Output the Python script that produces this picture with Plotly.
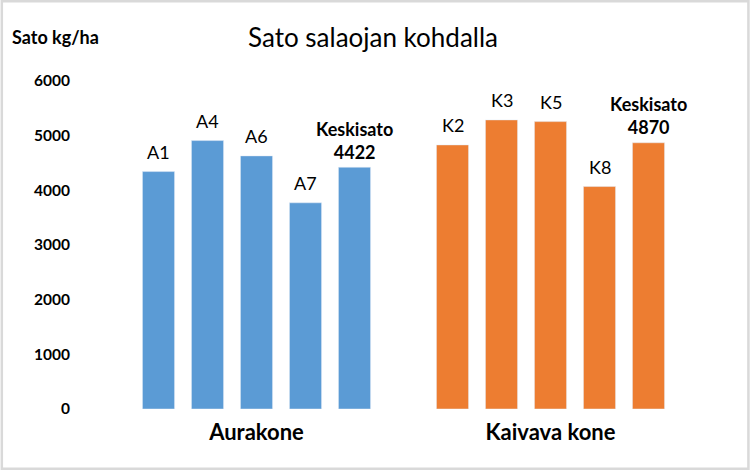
import plotly.graph_objects as go

# ---- data ----
groups = ["Aurakone", "Kaivava kone"]
labels_a = ["A1", "A4", "A6", "A7", "Keskisato"]
values_a = [4343, 4910, 4630, 3772, 4422]
labels_k = ["K2", "K3", "K5", "K8", "Keskisato"]
values_k = [4831, 5288, 5257, 4069, 4870]
y_ticks = [0, 1000, 2000, 3000, 4000, 5000, 6000]

BLUE = "#5B9BD5"
ORANGE = "#ED7D31"
FONT = "Lato"

x_a = list(range(len(values_a)))
x_k = [len(values_a) + 1 + i for i in range(len(values_k))]

fig = go.Figure()
fig.add_trace(go.Bar(x=x_a, y=values_a, marker_color=BLUE, width=0.655,
                     showlegend=False, hoverinfo="skip"))
fig.add_trace(go.Bar(x=x_k, y=values_k, marker_color=ORANGE, width=0.655,
                     showlegend=False, hoverinfo="skip"))

annotations = []
for xs, labs, vals in ((x_a, labels_a, values_a), (x_k, labels_k, values_k)):
    for x, lab, v in zip(xs, labs, vals):
        if lab == "Keskisato":
            annotations.append(dict(x=x, y=v, xref="x", yref="y",
                                    text=f"<b>{lab}<br>{v}</b>", showarrow=False,
                                    yanchor="middle", yshift=27,
                                    font=dict(family=FONT, size=18, color="#000000")))
        else:
            annotations.append(dict(x=x, y=v, xref="x", yref="y", text=lab,
                                    showarrow=False, yanchor="middle", yshift=20,
                                    font=dict(family=FONT, size=18, color="#000000")))

pw, ph = 750 - 133.5 - 77, 471 - 81 - 61.5

# Y-axis title at top-left
annotations.append(dict(x=(9 - 133.5) / pw, y=(409.5 - 37) / ph, xref="paper", yref="paper",
                        text="<b>Sato kg/ha</b>", showarrow=False,
                        xanchor="left", yanchor="middle",
                        font=dict(family=FONT, size=18, color="#000000")))

fig.update_layout(
    width=750, height=471,
    margin=dict(l=133.5, r=77, t=81, b=61.5),
    paper_bgcolor="white", plot_bgcolor="white",
    title=dict(text="Sato salaojan kohdalla", x=373 / 750, xanchor="center",
               y=1 - 38 / 471, yanchor="middle",
               font=dict(family=FONT, size=26, color="#000000")),
    xaxis=dict(range=[-0.5, x_k[-1] + 0.5], tickvals=[sum(x_a) / len(x_a), sum(x_k) / len(x_k)],
               ticktext=[f"<b>{g}</b>" for g in groups], showgrid=False, zeroline=False,
               showline=False, ticks="", ticklabelstandoff=8,
               tickfont=dict(family=FONT, size=22, color="#000000")),
    yaxis=dict(range=[0, 6000], tickvals=y_ticks, ticktext=[f"<b>{t}</b>" for t in y_ticks],
               showgrid=False, zeroline=False, showline=False, ticks="",
               ticklabelstandoff=63,
               tickfont=dict(family=FONT, size=15.5, color="#000000")),
    annotations=annotations,
    shapes=[dict(type="rect", xref="paper", yref="paper",
                 x0=(1.2 - 133.5) / pw, x1=(748.5 - 133.5) / pw,
                 y0=(409.5 - 469.3) / ph, y1=(409.5 - 1.2) / ph,
                 line=dict(color="#D9D9D9", width=2.5), layer="below")],
)

fig.write_html("out.html")
